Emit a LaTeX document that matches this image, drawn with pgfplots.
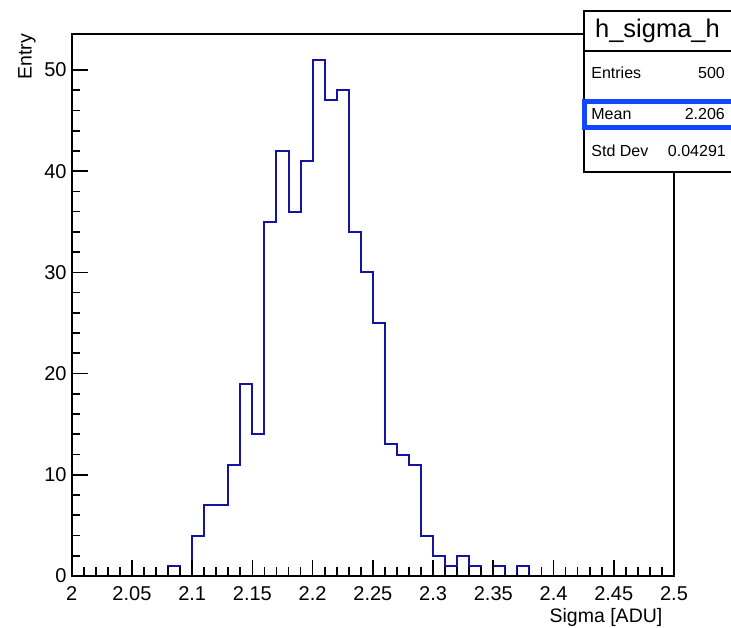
\documentclass[border=0pt]{standalone}
\usepackage{fontspec}
\setmainfont{Liberation Sans}
\usepackage{pgfplots}
\usepackage{pgfplotstable}
\pgfplotsset{compat=1.18}
\definecolor{histblue}{RGB}{20,20,160}
\definecolor{markblue}{RGB}{20,70,255}

% h_sigma_h: bin left edge, entries (bin width 0.01)
\pgfplotstableread{
x     n
2.00  0
2.01  0
2.02  0
2.03  0
2.04  0
2.05  0
2.06  0
2.07  0
2.08  1
2.09  0
2.10  4
2.11  7
2.12  7
2.13  11
2.14  19
2.15  14
2.16  35
2.17  42
2.18  36
2.19  41
2.20  51
2.21  47
2.22  48
2.23  34
2.24  30
2.25  25
2.26  13
2.27  12
2.28  11
2.29  4
2.30  2
2.31  1
2.32  2
2.33  1
2.34  0
2.35  1
2.36  0
2.37  1
2.38  0
2.39  0
2.40  0
2.41  0
2.42  0
2.43  0
2.44  0
2.45  0
2.46  0
2.47  0
2.48  0
2.49  0
2.50  0
}\hsigma

\begin{document}
\begin{tikzpicture}
\path[use as bounding box] (-71.7pt,-51pt) rectangle (659.3pt,576pt);
\begin{axis}[
  at={(0pt,0pt)}, anchor=south west,
  scale only axis, width=602.3pt, height=542pt,
  xmin=2, xmax=2.5, ymin=0, ymax=53.55,
  xtick={2,2.05,2.1,2.15,2.2,2.25,2.3,2.35,2.4,2.45,2.5},
  xticklabels={2,2.05,2.1,2.15,2.2,2.25,2.3,2.35,2.4,2.45,2.5},
  ytick={0,10,20,30,40,50},
  minor x tick num=4, minor y tick num=4,
  tick align=inside, tick pos=left,
  major tick length=16pt, minor tick length=8.5pt,
  tick style={black, line width=1.7pt},
  axis line style={line width=1.7pt},
  axis on top,
  /pgf/number format/assume math mode=true,
  tick label style={font=\fontsize{20}{22}\selectfont},
  xticklabel style={anchor=north, inner sep=0pt, yshift=-10pt},
  yticklabel style={anchor=east, inner sep=0pt, xshift=-5pt},
  xlabel={Sigma [ADU]}, ylabel={Entry},
  label style={font=\fontsize{19.5}{22}\selectfont, inner sep=0pt},
  xlabel style={at={(axis description cs:0.981,-0.0849)}, anchor=base east},
  ylabel style={at={(axis description cs:-0.0664,1)}, anchor=base east},
  clip=false,
]
\addplot[histblue, line width=2pt, const plot mark left, mark=none] table[x=x, y=n] {\hsigma};
\end{axis}
% statistics box
\fill[white] (512.3pt,403.7pt) rectangle (665pt,565pt);
\draw[line width=1.7pt] (512.3pt,403.7pt) rectangle (665pt,565pt);
\draw[line width=1.7pt] (512.3pt,525.3pt) -- (665pt,525.3pt);
\node[anchor=base, inner sep=0pt, font=\fontsize{25.5}{28}\selectfont] at (585.8pt,538.7pt) {h\_sigma\_h};
\begin{scope}[every node/.style={inner sep=0pt, font=\fontsize{16}{18}\selectfont}]
\node[anchor=base west] at (519.5pt,497.7pt) {Entries};
\node[anchor=base east] at (653.3pt,497.7pt) {500};
\node[anchor=base west] at (519.5pt,456pt) {Mean};
\node[anchor=base east] at (653.3pt,456pt) {2.206};
\node[anchor=base west] at (519.5pt,419.3pt) {Std Dev};
\node[anchor=base east] at (654.3pt,419.3pt) {0.04291};
\end{scope}
\draw[markblue, line width=5pt] (512.3pt,448.3pt) rectangle (665pt,474.7pt);
\end{tikzpicture}
\end{document}
